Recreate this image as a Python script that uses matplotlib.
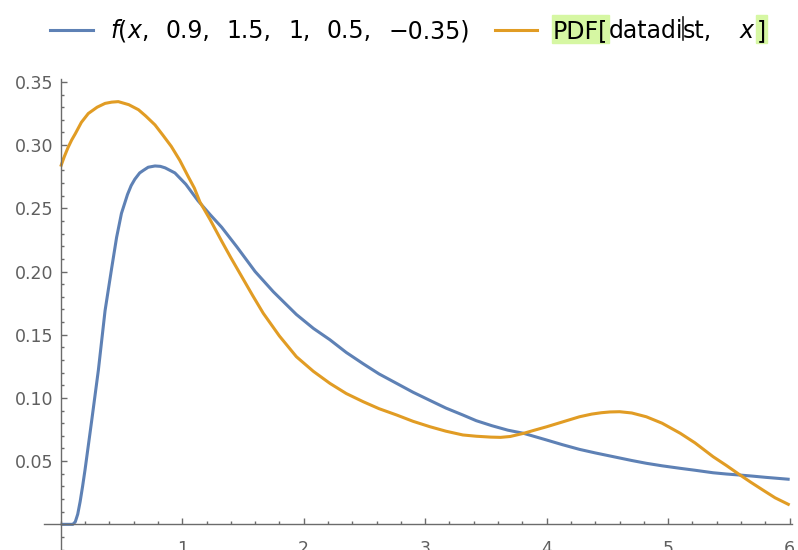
import matplotlib
matplotlib.use("Agg")
import matplotlib.pyplot as plt
from matplotlib.lines import Line2D
from matplotlib.patches import Rectangle
from matplotlib.ticker import FixedLocator, MultipleLocator, FormatStrFormatter

# values
x_model = [0.0, 0.05, 0.10, 0.12, 0.14, 0.16, 0.18, 0.20, 0.255, 0.31, 0.365,
           0.42, 0.46, 0.50, 0.55, 0.58, 0.61, 0.65, 0.68, 0.72, 0.776, 0.82,
           0.86, 0.94, 1.03, 1.13, 1.23, 1.325, 1.45, 1.60, 1.75, 1.94, 2.08,
           2.216, 2.35, 2.49, 2.62, 2.765, 2.90, 3.04, 3.17, 3.31, 3.42, 3.55,
           3.68, 3.81, 4.0, 4.13, 4.27, 4.40, 4.55, 4.70, 4.82, 4.95, 5.10,
           5.22, 5.37, 5.48, 5.59, 5.70, 5.80, 5.90, 6.0]
y_model = [0.0, 0.0, 0.0, 0.002, 0.008, 0.018, 0.030, 0.043, 0.082, 0.122, 0.169,
           0.203, 0.227, 0.246, 0.261, 0.268, 0.273, 0.278, 0.280, 0.2825, 0.2835, 0.2832,
           0.282, 0.278, 0.269, 0.256, 0.245, 0.235, 0.2195, 0.200, 0.184, 0.166, 0.155,
           0.146, 0.136, 0.127, 0.119, 0.1115, 0.1045, 0.098, 0.092, 0.0865, 0.082, 0.078,
           0.0745, 0.072, 0.0667, 0.063, 0.0593, 0.0565, 0.0535, 0.0505, 0.0483, 0.0463, 0.0443,
           0.0428, 0.0408, 0.0398, 0.039, 0.0381, 0.0372, 0.0364, 0.0356]

x_pdf = [0.0, 0.03, 0.06, 0.09, 0.12, 0.17, 0.227, 0.30, 0.365, 0.42, 0.474,
         0.56, 0.64, 0.70, 0.776, 0.84, 0.91, 0.98, 1.05, 1.10, 1.146, 1.23,
         1.325, 1.40, 1.49, 1.58, 1.667, 1.80, 1.94, 2.08, 2.216, 2.35, 2.49,
         2.62, 2.765, 2.90, 3.04, 3.17, 3.31, 3.42, 3.54, 3.62, 3.70, 3.81,
         3.90, 4.0, 4.13, 4.27, 4.37, 4.45, 4.52, 4.60, 4.70, 4.82, 4.95,
         5.10, 5.22, 5.37, 5.48, 5.58, 5.68, 5.78, 5.88, 6.0]
y_pdf = [0.283, 0.291, 0.298, 0.304, 0.309, 0.318, 0.325, 0.330, 0.333, 0.334, 0.3344,
         0.332, 0.328, 0.323, 0.316, 0.308, 0.299, 0.288, 0.275, 0.266, 0.255, 0.241,
         0.224, 0.211, 0.196, 0.181, 0.167, 0.149, 0.1326, 0.121, 0.1115, 0.1035, 0.097,
         0.0915, 0.0865, 0.0815, 0.0772, 0.0737, 0.0707, 0.0697, 0.069, 0.0688, 0.0695, 0.072,
         0.0745, 0.0772, 0.081, 0.0851, 0.0872, 0.0883, 0.0889, 0.0891, 0.0881, 0.0851, 0.080,
         0.072, 0.0645, 0.0535, 0.0465, 0.0398, 0.0333, 0.0271, 0.021, 0.0153]

x_ticks = [1, 2, 3, 4, 5, 6]
y_ticks = [0.05, 0.10, 0.15, 0.20, 0.25, 0.30, 0.35]

# legend text, split into the groups that sit between the commas
model_groups = [[("f", True), ("(", False), ("x", True), (",", False)],
                [("0.9,", False)], [("1.5,", False)], [("1,", False)],
                [("0.5,", False)], [("\u22120.35)", False)]]

BLUE = "#5E81B5"
ORANGE = "#E19C24"
AXIS = "#6b6b6b"
LABEL = "#5f5f5f"
HILITE = "#d6f7a3"

plt.rcParams["font.family"] = ["DejaVu Sans"]

W, H = 798, 550
fig = plt.figure(figsize=(W / 100, H / 100), dpi=100)
ax = fig.add_axes([43.7 / W, 0.0, 748.4 / W, 471 / H])

ax.plot(x_model, y_model, color=BLUE, lw=2.2, solid_capstyle="butt",
        solid_joinstyle="round", clip_on=False)
ax.plot(x_pdf, y_pdf, color=ORANGE, lw=2.2, solid_capstyle="butt",
        solid_joinstyle="round", clip_on=False)

ax.set_xlim(-0.14, 6.02)
ax.set_ylim(-0.0203, 0.3523)

for side in ("top", "right"):
    ax.spines[side].set_visible(False)
ax.spines["left"].set_position(("data", 0))
ax.spines["bottom"].set_position(("data", 0))
for side in ("left", "bottom"):
    ax.spines[side].set_color(AXIS)
    ax.spines[side].set_linewidth(1.0)

ax.xaxis.set_major_locator(FixedLocator(x_ticks))
ax.xaxis.set_minor_locator(MultipleLocator(0.2))
ax.yaxis.set_major_locator(FixedLocator(y_ticks))
ax.yaxis.set_minor_locator(MultipleLocator(0.01))
ax.yaxis.set_major_formatter(FormatStrFormatter("%.2f"))

ax.tick_params(which="both", direction="in", color=AXIS, width=1.0)
ax.tick_params(which="major", length=4.5)
ax.tick_params(which="minor", length=2.5)
ax.tick_params(axis="x", which="major", pad=11.5, labelsize=12.5, labelcolor=LABEL)
ax.tick_params(axis="y", which="major", pad=5.5, labelsize=12.5, labelcolor=LABEL)

# legend row drawn by hand in pixel coordinates (y measured from the bottom)
fig.canvas.draw()
renderer = fig.canvas.get_renderer()
base = H - 38
row = H - 30


def put(x, s, italic=False, bg=None):
    t = fig.text(x / W, base / H, s, fontsize=17,
                 style="italic" if italic else "normal", color="black",
                 va="baseline", ha="left")
    bb = t.get_window_extent(renderer)
    if bg is not None:
        fig.patches.append(Rectangle(((bb.x0 - 1) / W, (H - 43) / H), (bb.width + 2) / W,
                                     28 / H, transform=fig.transFigure, color=bg, zorder=0))
    return bb.x1


def width(group):
    total = 0
    for s, it in group:
        t = fig.text(0, 0, s, fontsize=17, style="italic" if it else "normal")
        total += t.get_window_extent(renderer).width
        t.remove()
    return total


# first entry: spread the comma groups so the text runs from 110 to 470 px
fig.add_artist(Line2D([50 / W, 93 / W], [row / H, row / H], color=BLUE, lw=2.2))
widths = [width(g) for g in model_groups]
gap = (470 - 110 - sum(widths)) / (len(model_groups) - 1)
x = 110
for g in model_groups:
    for s, it in g:
        x = put(x, s, it)
    x += gap

# second entry
fig.add_artist(Line2D([495 / W, 537 / W], [row / H, row / H], color=ORANGE, lw=2.2))
x = put(553, "PDF[", bg=HILITE)
x = put(x, "datadi")
fig.add_artist(Line2D([(x + 0.5) / W] * 2, [(H - 40) / H, (H - 17) / H],
                      color="#202020", lw=1.2))
x = put(x, "st,")
x = put(740, "x", italic=True)
put(x + 3, "]", bg=HILITE)

fig.savefig("out.png", dpi=100)
